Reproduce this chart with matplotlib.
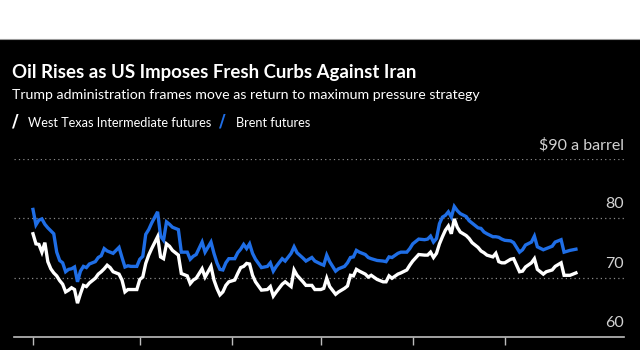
import pandas as pd
import matplotlib
matplotlib.use('Agg')
import matplotlib.pyplot as plt
from matplotlib.patches import Rectangle
from matplotlib.lines import Line2D

# calendar days since 2024-08-26
start = pd.Timestamp('2024-08-26')
days = [0, 1, 2, 3, 4, 5, 6, 7, 8, 9, 10, 11, 12, 13, 14, 15, 16, 17, 18, 19,
        21, 22, 23, 24, 25, 26, 27, 29, 30, 31, 32, 33, 35, 36, 37, 38, 39, 40, 42, 43,
        44, 45, 46, 47, 49, 50, 52, 53, 54, 55, 57, 58, 60, 61, 62, 63, 64, 65, 66, 68,
        69, 70, 71, 72, 73, 74, 75, 77, 79, 80, 81, 82, 84, 85, 87, 88, 89, 91, 92, 94,
        95, 97, 98, 99, 100, 102, 103, 105, 106, 107, 108, 109, 110, 112, 113, 114, 116, 118, 119, 120,
        121, 123, 124, 126, 127, 128, 130, 132, 133, 134, 135, 136, 137, 138, 139, 140, 141, 142, 143, 144,
        146, 147, 148, 150, 151, 152, 153, 155, 156, 157, 158, 159, 161, 162, 164, 165, 166, 168, 169, 170,
        172, 173, 175, 176, 178, 179, 181, 183]

brent = [81.5, 78.9, 79.7, 79.9, 79.0, 78.4, 77.9, 77.4, 74.3, 72.9, 72.5, 71.0, 71.4, 71.5, 71.8, 69.3, 71.1, 71.9, 71.7, 72.3,
         72.7, 73.4, 73.7, 74.9, 74.5, 74.3, 74.1, 75.1, 73.4, 71.8, 72.0, 71.9, 71.9, 73.1, 73.6, 77.3, 78.1, 79.2, 81.1, 77.0,
         76.3, 79.4, 79.0, 78.5, 78.1, 74.3, 74.3, 73.1, 73.6, 73.9, 76.0, 74.3, 76.0, 74.1, 72.5, 71.4, 71.3, 72.5, 73.2, 73.2,
         74.2, 74.8, 75.6, 74.9, 75.7, 74.1, 73.1, 71.7, 71.9, 72.5, 71.1, 71.9, 73.2, 72.8, 74.1, 75.2, 74.2, 73.3, 72.8, 73.4,
         72.8, 72.3, 72.1, 73.8, 72.7, 71.1, 71.5, 71.9, 72.5, 73.4, 73.5, 74.6, 74.3, 73.9, 73.4, 73.2, 72.9, 72.8, 72.7, 73.5,
         73.4, 74.1, 74.3, 74.3, 74.9, 75.7, 76.5, 76.4, 76.5, 77.0, 76.0, 76.6, 79.1, 80.2, 80.5, 81.1, 80.2, 82.0, 81.3, 80.8,
         80.3, 79.6, 79.2, 78.4, 78.3, 77.7, 77.4, 76.9, 76.9, 76.8, 76.5, 76.3, 76.2, 75.9, 74.3, 74.7, 75.5, 76.0, 77.0, 75.2,
         74.7, 74.9, 75.3, 76.0, 76.4, 74.3, 74.6, 74.8]

wti = [77.4, 75.7, 75.6, 74.3, 75.9, 72.7, 71.5, 70.8, 70.3, 69.5, 68.9, 67.6, 67.9, 68.3, 68.0, 65.7, 67.3, 68.7, 68.5, 69.1,
       69.9, 70.6, 71.0, 71.5, 72.1, 71.7, 71.0, 70.6, 69.6, 67.6, 68.0, 68.0, 68.0, 69.7, 70.1, 72.4, 73.8, 74.9, 76.9, 73.5,
       73.2, 75.7, 75.3, 74.6, 73.8, 70.7, 70.3, 69.0, 69.6, 69.9, 71.5, 70.1, 71.9, 69.6, 68.2, 67.1, 67.6, 68.7, 69.3, 69.6,
       70.7, 71.7, 71.9, 72.4, 72.3, 70.4, 69.3, 67.9, 68.0, 68.5, 66.9, 67.6, 68.9, 69.3, 68.5, 71.3, 70.4, 69.3, 68.7, 68.7,
       68.0, 68.0, 68.2, 69.9, 68.5, 67.2, 67.6, 68.2, 68.6, 70.4, 70.3, 71.4, 71.1, 70.6, 70.1, 70.4, 69.7, 69.3, 69.3, 70.3,
       69.9, 70.6, 70.8, 71.3, 72.1, 72.8, 73.9, 73.8, 73.8, 74.3, 73.4, 74.1, 75.7, 76.9, 78.0, 78.7, 77.4, 79.9, 78.5, 77.7,
       77.1, 76.6, 75.9, 75.1, 74.5, 74.2, 73.8, 73.5, 74.1, 72.7, 72.5, 72.5, 73.1, 73.2, 71.0, 71.1, 71.8, 72.5, 73.2, 71.4,
       70.6, 71.0, 71.3, 71.9, 72.5, 70.4, 70.4, 70.8]

tick_dates = ['2024-08-26', '2024-10-01', '2024-11-01', '2024-12-01', '2025-01-01', '2025-02-01']
y_ticks = [60, 70, 80, 90]
y_labels = ['60', '70', '80', '$90 a barrel']

title = 'Oil Rises as US Imposes Fresh Curbs Against Iran'
subtitle = 'Trump administration frames move as return to maximum pressure strategy'
names = ['West Texas Intermediate futures', 'Brent futures']

plt.rcParams['font.family'] = ['Lato', 'DejaVu Sans']

dates = start + pd.to_timedelta(days, unit='D')
blue = '#1f6ee6'
grey = '#d2d2d2'

fig = plt.figure(figsize=(6.4, 3.5), dpi=100, facecolor='black')
# white band on top
fig.patches.append(Rectangle((0, 311 / 350), 1, 39 / 350, transform=fig.transFigure,
                             facecolor='white', edgecolor='none', zorder=0))
fig.lines.append(Line2D([0, 1], [311 / 350, 311 / 350], transform=fig.transFigure,
                        color='#9a9a9a', lw=0.8))

ax = fig.add_axes([14 / 640, 13 / 350, 610 / 640, 178 / 350])
ax.set_facecolor('black')

ax.plot(dates, brent, color=blue, lw=2.4, solid_joinstyle='miter', zorder=3)
ax.plot(dates, wti, color='white', lw=2.4, solid_joinstyle='miter', zorder=4)

ax.set_ylim(60, 90)
ax.set_xlim(start - pd.Timedelta(days=6.4), start + pd.Timedelta(days=199.2))

for v in y_ticks[1:]:
    ax.axhline(v, color='#8a8a8a', lw=0.9, ls=(0, (1, 2.5)), zorder=1)
for v, lab in zip(y_ticks, y_labels):
    ax.annotate(lab, xy=(1, v), xycoords=('axes fraction', 'data'), xytext=(0, 5),
                textcoords='offset points', ha='right', va='bottom', color=grey, fontsize=11.5)

ax.set_yticks([])
ax.set_xticks(pd.to_datetime(tick_dates))
ax.tick_params(axis='x', length=6, width=1, color='#bdbdbd', labelbottom=False)
for s in ['top', 'left', 'right']:
    ax.spines[s].set_visible(False)
ax.spines['bottom'].set_color('#bdbdbd')
ax.spines['bottom'].set_linewidth(1.2)

renderer = fig.canvas.get_renderer()


def fit_text(x, y, s, width, size, **kw):
    # scale the font so the text spans about the same width as in the reference
    t = fig.text(x / 640, 1 - y / 350, s, fontsize=size, va='baseline', **kw)
    w = t.get_window_extent(renderer).width
    t.set_fontsize(size * width / w)
    return t


fit_text(12, 78, title, 405, 13.5, color='white', fontweight='bold')
fit_text(12, 99, subtitle, 466, 12, color='white')

fig.text(12 / 640, 1 - 127 / 350, '/', color='white', fontsize=13, fontweight='bold',
         family='DejaVu Sans', va='baseline')
fit_text(28, 127, names[0], 184, 12, color='white')
fig.text(219 / 640, 1 - 127 / 350, '/', color=blue, fontsize=13, fontweight='bold',
         family='DejaVu Sans', va='baseline')
fit_text(236, 127, names[1], 75, 12, color='white')

fig.savefig('out.png', dpi=100, facecolor='black')
